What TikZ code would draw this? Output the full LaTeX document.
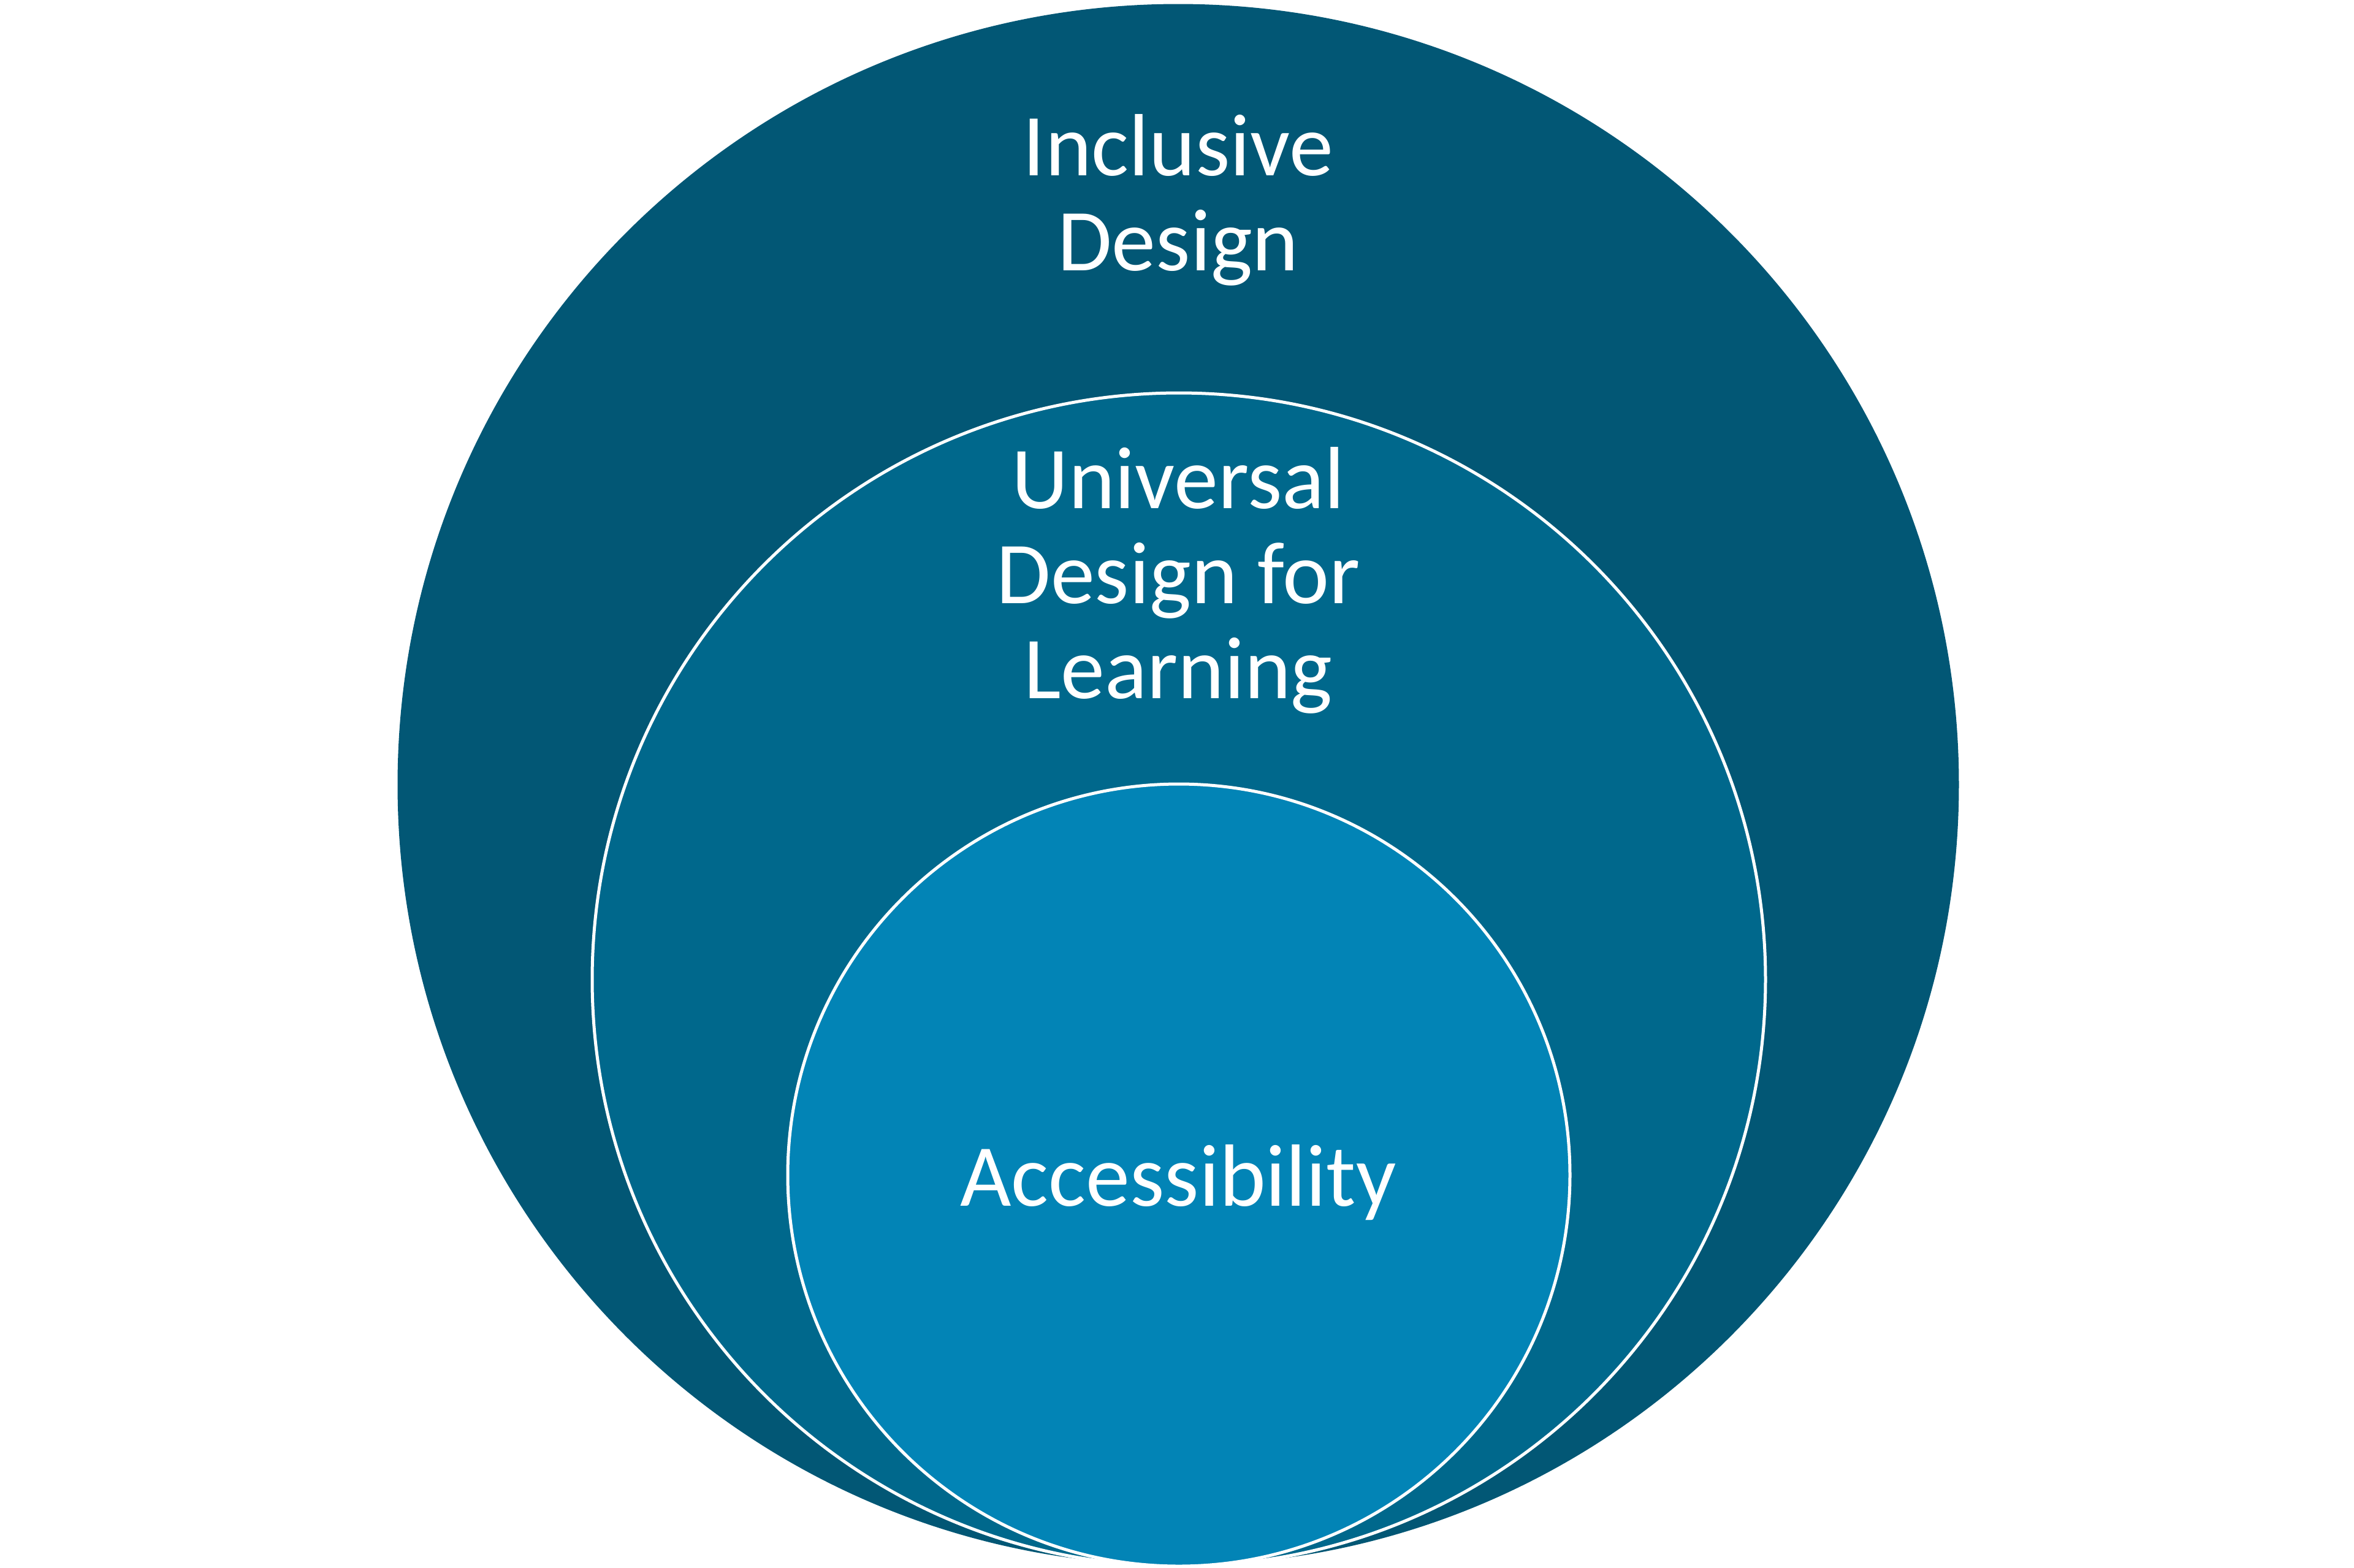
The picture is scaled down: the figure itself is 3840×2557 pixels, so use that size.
\documentclass[tikz,border=0pt]{standalone}
\usepackage{fontspec}
\setmainfont{Carlito}
\definecolor{inclblue}{RGB}{  2,  87, 117}
\definecolor{udlblue}{RGB}{  0, 104, 140}
\definecolor{accblue}{RGB}{  2, 132, 182}

\begin{document}
\begin{tikzpicture}[
x = 0.1mm, y = -0.1mm,
 ring/.style = {circle, fill=#1, draw=white, line width=0.5mm,
                inner sep=0pt},
 ringtext/.style = {text=white, align=center, anchor=base,
                font=\fontsize{41}{44}\selectfont}
                    ]
\useasboundingbox (0,0) rectangle (3840,2557);

\node[ring=inclblue, draw=none, minimum size=254.7mm] (incl) at (1922,1280) {};
\node[ring=udlblue, minimum size=191.4mm] (udl) at (1923,1598) {};
\node[ring=accblue, minimum size=127.6mm] (acc) at (1923,1917) {};

% base anchor sits on the last line
\node[ringtext] (incltext) at (1922,441) {Inclusive\\
                     Design};
\node[ringtext] (udltext) at (1922,1139) {Universal\\
                     Design for\\
                     Learning};
\node[ringtext] (acctext) at (1922,1967) {Accessibility};
\end{tikzpicture}
\end{document}
